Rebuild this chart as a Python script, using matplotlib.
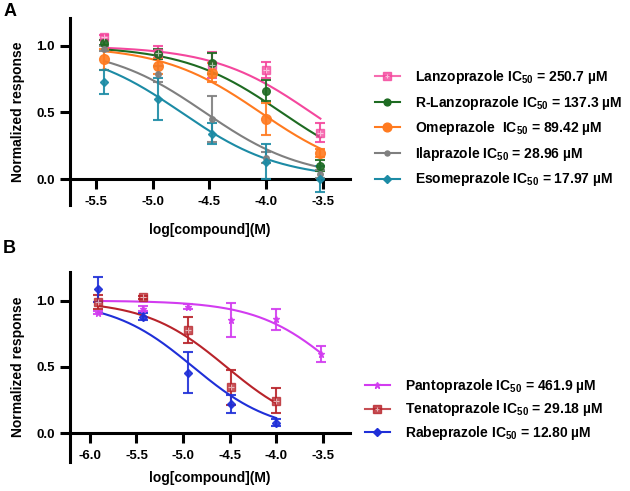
import numpy as np
import matplotlib
matplotlib.use("Agg")
import matplotlib.pyplot as plt
from matplotlib.lines import Line2D

plt.rcParams['font.family'] = ['Liberation Sans', 'DejaVu Sans']
plt.rcParams['font.weight'] = 'bold'
plt.rcParams['mathtext.fontset'] = 'custom'
plt.rcParams['mathtext.rm'] = 'Liberation Sans:bold'
plt.rcParams['mathtext.default'] = 'rm'

# Panel A data
xa = [-5.43, -4.95, -4.48, -4.0, -3.52]
labels_a = ['Lanzoprazole IC$_{50}$ = 250.7 µM', 'R-Lanzoprazole IC$_{50}$ = 137.3 µM',
            'Omeprazole  IC$_{50}$ = 89.42 µM', 'Ilaprazole IC$_{50}$ = 28.96 µM',
            'Esomeprazole IC$_{50}$ = 17.97 µM']
ic50_a = [250.7, 137.3, 89.42, 28.96, 17.97]  # µM
mean_a = [
    [1.065, 0.95, 0.857, 0.82, 0.348],
    [1.025, 0.94, 0.87, 0.664, 0.10],
    [0.90, 0.85, 0.80, 0.45, 0.198],
    [0.98, 0.79, 0.45, 0.16, 0.04],
    [0.73, 0.60, 0.34, 0.13, 0.0],
]
err_a = [
    [0.02, 0.05, 0.10, 0.06, 0.07],
    [0.02, 0.04, 0.08, 0.08, 0.04],
    [0.08, 0.06, 0.07, 0.12, 0.03],
    [0.02, 0.06, 0.17, 0.04, 0.03],
    [0.09, 0.16, 0.08, 0.13, 0.10],
]
colors_a = ['#F4479D', '#1E6B22', '#FF7A1F', '#7F7F7F', '#1C8BA5']

# Panel B data
xb = [-5.91, -5.43, -4.95, -4.48, -4.0, -3.52]
labels_b = ['Pantoprazole IC$_{50}$ = 461.9 µM', 'Tenatoprazole IC$_{50}$ = 29.18 µM',
            'Rabeprazole IC$_{50}$ = 12.80 µM']
ic50_b = [461.9, 29.18, 12.80]
mean_b = [
    [0.91, 0.94, 0.955, 0.854, 0.86, 0.60],
    [0.99, 1.025, 0.78, 0.344, 0.244],
    [1.085, 0.88, 0.457, 0.22, 0.078],
]
err_b = [
    [0.01, 0.02, 0.02, 0.13, 0.08, 0.06],
    [0.05, 0.01, 0.10, 0.13, 0.095],
    [0.095, 0.025, 0.155, 0.065, 0.025],
]
colors_b = ['#D23CF0', '#B8232A', '#1F2FD8']


def hill(x, ic50_um):
    # fitted curve: top 1, bottom 0, hill slope -1
    return 1.0 / (1.0 + 10 ** (np.asarray(x) - np.log10(ic50_um * 1e-6)))


def style_axes(ax, xlim, ylim, xticks, xpad):
    ax.set_xlim(*xlim)
    ax.set_ylim(*ylim)
    ax.spines['top'].set_visible(False)
    ax.spines['right'].set_visible(False)
    ax.spines['bottom'].set_position(('data', 0))
    for s in ['left', 'bottom']:
        ax.spines[s].set_linewidth(2.2)
    ax.set_xticks(xticks)
    ax.set_xticklabels([f'{t:.1f}' for t in xticks])
    ax.set_yticks([0, 0.5, 1.0])
    ax.set_yticklabels(['0.0', '0.5', '1.0'])
    ax.tick_params(width=2.2, length=7, labelsize=9.5)
    ax.tick_params(axis='x', pad=5)
    ax.tick_params(axis='y', pad=4)
    ax.set_ylabel('Normalized response', fontsize=10, fontweight='bold', labelpad=8)
    ax.set_xlabel('log[compound](M)', fontsize=10, fontweight='bold', labelpad=xpad)


def draw_series(ax, x, y, e, color, marker, ms, curve_x, ic50):
    ax.errorbar(x[:len(y)], y, yerr=e, fmt='none', ecolor=color, elinewidth=1.5,
                capsize=3.5, capthick=1.5, zorder=3, alpha=0.9)
    xx = np.linspace(curve_x[0], curve_x[1], 200)
    ax.plot(xx, hill(xx, ic50), color=color, lw=1.5, zorder=2)
    draw_marker(ax, x[:len(y)], y, color, marker, ms)


def draw_marker(ax, x, y, color, marker, ms):
    if marker == 'sq':
        ax.plot(x, y, ls='none', marker='s', ms=ms, mfc=color, mec=color, alpha=0.75, zorder=4)
        ax.plot(x, y, ls='none', marker='+', ms=ms * 0.7, mew=0.8, color='white', alpha=0.6, zorder=5)
    else:
        ax.plot(x, y, ls='none', marker=marker, ms=ms, color=color, alpha=0.9, zorder=4)


def legend_handle(color, marker, ms):
    if marker == 'sq':
        return (Line2D([], [], color=color, lw=1.5, marker='s', ms=ms * 0.9, mfc=color, mec=color, alpha=0.8),
                Line2D([], [], ls='none', marker='+', ms=ms * 0.6, mew=0.8, color='white', alpha=0.6))
    return Line2D([], [], color=color, lw=1.5, marker=marker, ms=ms * 0.9)


fig = plt.figure(figsize=(6.3, 4.91), dpi=100)

# Panel A
axa = fig.add_axes([0.111, 0.5825, 0.444, 0.381])
markers_a = [('sq', 6), ('o', 5.5), ('o', 7), ('o', 4), ('D', 4.5)]
for i in range(5):
    m, ms = markers_a[i]
    draw_series(axa, xa, mean_a[i], err_a[i], colors_a[i], m, ms, (xa[0], xa[-1]), ic50_a[i])
style_axes(axa, (-5.729, -3.262), (-0.195, 1.21), [-5.5, -5.0, -4.5, -4.0, -3.5], 11)
ha = [legend_handle(colors_a[i], *markers_a[i]) for i in range(5)]
fig.legend(ha, labels_a, loc='center left', bbox_to_anchor=(0.595, 0.739), frameon=False,
           handlelength=1.8, handletextpad=1.1, labelspacing=0.55, borderpad=0, borderaxespad=0,
           prop={'weight': 'bold', 'size': 10})
fig.text(0.005, 0.977, 'A', fontsize=13, fontweight='bold', va='center')

# Panel B
axb = fig.add_axes([0.111, 0.059, 0.444, 0.387])
markers_b = [('*', 5), ('sq', 6), ('D', 4.5)]
curve_ends = [(xb[0], xb[-1]), (xb[0], xb[4]), (xb[0], xb[4])]
for i in range(3):
    m, ms = markers_b[i]
    draw_series(axb, xb, mean_b[i], err_b[i], colors_b[i], m, ms, curve_ends[i], ic50_b[i])
style_axes(axb, (-6.215, -3.21), (-0.219, 1.216), [-6.0, -5.5, -5.0, -4.5, -4.0, -3.5], 7)
hb = [legend_handle(colors_b[i], *markers_b[i]) for i in range(3)]
fig.legend(hb, labels_b, loc='center left', bbox_to_anchor=(0.579, 0.166), frameon=False,
           handlelength=1.8, handletextpad=1.1, labelspacing=0.4, borderpad=0, borderaxespad=0,
           prop={'weight': 'bold', 'size': 10})
fig.text(0.005, 0.493, 'B', fontsize=13, fontweight='bold', va='center')

fig.savefig('out.png', dpi=100)
